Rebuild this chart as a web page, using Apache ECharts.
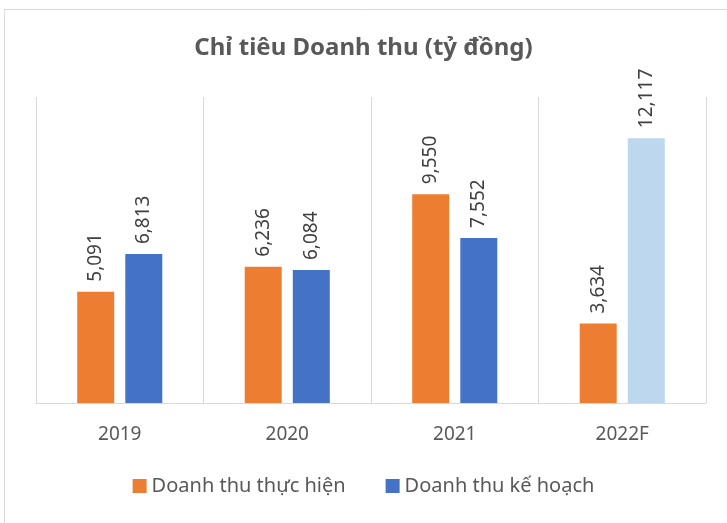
<!DOCTYPE html>
<html>
<head>
    <meta charset="UTF-8">
    <title>Chỉ tiêu Doanh thu</title>
    <script src="https://cdn.jsdelivr.net/npm/echarts@6/dist/echarts.min.js"></script>
    <style>
        html, body { margin: 0; padding: 0; background: #ffffff; }
        #main { width: 727px; height: 523px; }
    </style>
</head>
<body>
<div id="main"></div>
<script type="text/javascript">
    // số liệu
    var years = ['2019', '2020', '2021', '2022F'];
    var actual = [5091, 6236, 9550, 3634];
    var plan = [6813, 6084, 7552, 12117];
    var forecastIndex = 3;

    var font = '"Noto Sans", sans-serif';
    var myChart = echarts.init(document.getElementById('main'));

    var planData = plan.map(function (v, i) {
        if (i === forecastIndex) {
            return {value: v, itemStyle: {color: '#BDD7EE'}};
        }
        return v;
    });

    var label = {
        show: true,
        position: 'top',
        rotate: 90,
        align: 'left',
        verticalAlign: 'middle',
        distance: 10,
        color: '#404040',
        fontSize: 19,
        fontFamily: font,
        formatter: function (p) {
            return echarts.format.addCommas(p.value);
        }
    };

    var option = {
        animation: false,
        backgroundColor: '#ffffff',
        title: {
            text: 'Chỉ tiêu Doanh thu (tỷ đồng)',
            left: 'center',
            top: 31,
            textStyle: {
                color: '#595959',
                fontSize: 24,
                fontWeight: 'bold',
                fontFamily: font
            }
        },
        graphic: [{
            type: 'rect',
            shape: {x: 4.5, y: 9.5, width: 740, height: 530},
            style: {fill: 'none', stroke: '#D9D9D9', lineWidth: 1},
            silent: true
        }],
        legend: {
            data: ['Doanh thu thực hiện', 'Doanh thu kế hoạch'],
            bottom: 22,
            left: 'center',
            itemWidth: 14,
            itemHeight: 14,
            itemGap: 40,
            icon: 'rect',
            textStyle: {color: '#595959', fontSize: 20, fontFamily: font}
        },
        grid: {
            left: 36,
            right: 21,
            top: 97,
            bottom: 120
        },
        xAxis: {
            type: 'category',
            data: years,
            axisLine: {lineStyle: {color: '#D9D9D9', width: 1}},
            axisTick: {show: false},
            splitLine: {show: true, lineStyle: {color: '#D9D9D9', width: 1}},
            axisLabel: {color: '#595959', fontSize: 19, fontFamily: font, margin: 22}
        },
        yAxis: {
            type: 'value',
            min: 0,
            max: 14000,
            show: false,
            splitLine: {show: false}
        },
        series: [
            {
                name: 'Doanh thu thực hiện',
                type: 'bar',
                data: actual,
                barWidth: 37,
                barGap: '30%',
                itemStyle: {color: '#ED7D31'},
                label: label
            },
            {
                name: 'Doanh thu kế hoạch',
                type: 'bar',
                data: planData,
                barWidth: 37,
                itemStyle: {color: '#4472C4'},
                label: label
            }
        ]
    };

    myChart.setOption(option);
</script>
</body>
</html>
